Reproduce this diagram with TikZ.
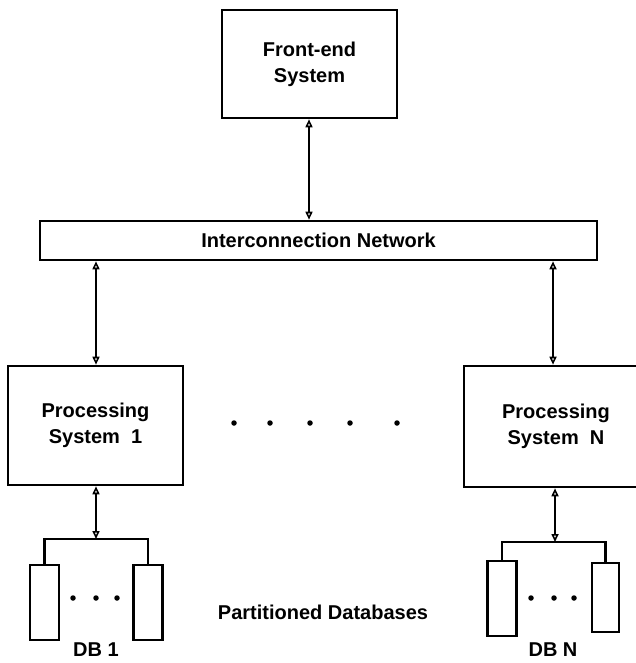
\documentclass[tikz,border=0pt]{standalone}
\usepackage{fontspec}
\setmainfont{Liberation Sans}
\usetikzlibrary{arrows.meta}
\begin{document}
\begin{tikzpicture}[x=1pt,y=-1pt,
  box/.style={draw,line width=2.6pt,rectangle,inner sep=0pt,align=center,
    font=\fontsize{20}{26}\selectfont\bfseries},
  dbbox/.style={draw,line width=2.4pt,rectangle,inner sep=0pt,
    minimum width=29pt,minimum height=75pt},
  tip/.style={Triangle[open,length=8pt,width=7pt,line width=1.6pt]},
  link/.style={line width=2.2pt,{Triangle[open,length=8pt,width=7pt,line width=1.6pt]}-{Triangle[open,length=8pt,width=7pt,line width=1.6pt]}},
  bus/.style={line width=2.4pt},
  lbl/.style={inner sep=1pt,font=\fontsize{20}{24}\selectfont\bfseries},
  dot/.style={circle,fill,inner sep=0pt,minimum size=5.5pt}]
\useasboundingbox (0,0) rectangle (635,663);

% main system boxes
\node[box,minimum width=175pt,minimum height=108pt] (fe) at (309.5,64) {Front-end\\System};
\node[box,minimum width=557pt,minimum height=39pt] (net) at (318.5,240.5) {Interconnection Network};
\node[box,minimum width=175pt,minimum height=119pt] (ps1) at (95.5,425.5) {Processing\\System\ \ 1};
\node[box,minimum width=184pt,minimum height=121pt] (psn) at (556,426.5) {Processing\\System\ \ N};

% links between the systems
\draw[link] (fe.south -| 309,0) -- (net.north -| 309,0);
\draw[link] (net.south -| 96,0) -- (ps1.north -| 96,0);
\draw[link] (net.south -| 553,0) -- (psn.north -| 553,0);

% ellipsis between the processing systems
\foreach \x [count=\i] in {234,270,310,350,397}
  \node[dot] (pd\i) at (\x,423) {};

% partitioned databases of system 1
\node[dbbox] (db1a) at (44.5,602.5) {};
\node[dbbox] (db1b) at (148,602.5) {};
\coordinate (j1) at (96,539);
\draw[bus] (db1a.north) |- (j1) -| (db1b.north);
\draw[link] (ps1.south -| j1) -- (j1);
\foreach \x [count=\i] in {73,96,117}
  \node[dot] (d1\i) at (\x,598) {};
\node[lbl] (l1) at (96,650) {DB 1};

% partitioned databases of system N
\node[dbbox] (dbna) at (502,598.5) {};
\node[dbbox,minimum width=27pt,minimum height=69pt] (dbnb) at (605.5,597.5) {};
\coordinate (jn) at (555,542);
\draw[bus] (dbna.north) |- (jn) -| (dbnb.north);
\draw[link] (psn.south -| jn) -- (jn);
\foreach \x [count=\i] in {531,554,574}
  \node[dot] (dn\i) at (\x,598) {};
\node[lbl] (ln) at (553,650) {DB N};

\node[lbl] (part) at (323,612) {Partitioned Databases};
\end{tikzpicture}
\end{document}
